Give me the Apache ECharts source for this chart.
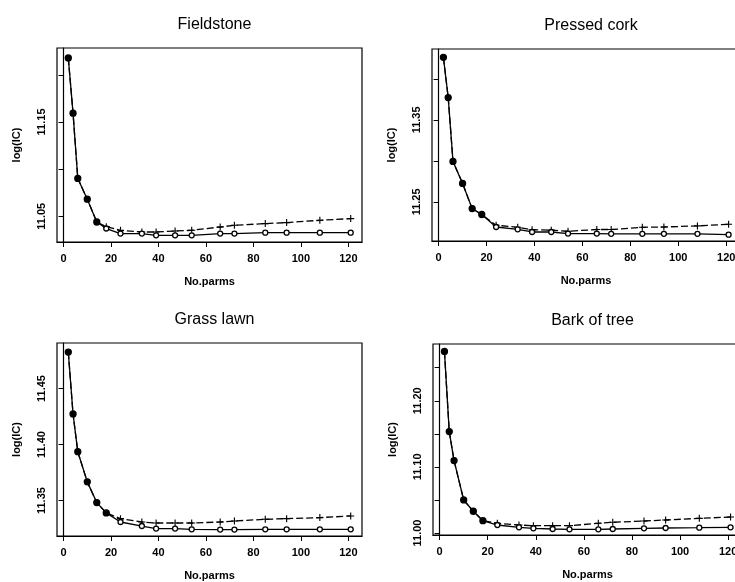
<!DOCTYPE html>
<html>
<head>
<meta charset="utf-8">
<script src="https://cdn.jsdelivr.net/npm/echarts@6/dist/echarts.min.js"></script>
<style>
html,body{margin:0;padding:0;background:#fff;overflow:hidden;}
#chart{width:745px;height:582px;}
</style>
</head>
<body>
<div id="chart"></div>
<script>
// ---- data ----
const titles = ["Fieldstone", "Pressed cork", "Grass lawn", "Bark of tree"];
const xParms = [2, 4, 6, 10, 14, 18, 24, 33, 39, 47, 54, 66, 72, 85, 94, 108, 121];
const xTicks = [0, 20, 40, 60, 80, 100, 120];

const fieldCirc = [11.2178, 11.1593, 11.0901, 11.0681, 11.0439, 11.0370, 11.0316, 11.0316, 11.0298, 11.0298, 11.0298, 11.0316, 11.0316, 11.0326, 11.0326, 11.0326, 11.0326];
const fieldPlus = [11.2178, 11.1593, 11.0901, 11.0681, 11.0439, 11.0390, 11.0351, 11.0333, 11.0333, 11.0344, 11.0351, 11.0386, 11.0404, 11.0422, 11.0433, 11.0457, 11.0475];

const corkCirc = [11.4263, 11.3773, 11.2994, 11.2725, 11.2418, 11.2346, 11.2194, 11.2166, 11.2133, 11.2133, 11.2113, 11.2113, 11.2110, 11.2110, 11.2110, 11.2110, 11.2100];
const corkPlus = [11.4263, 11.3773, 11.2994, 11.2725, 11.2418, 11.2346, 11.2215, 11.2190, 11.2160, 11.2155, 11.2142, 11.2163, 11.2163, 11.2190, 11.2194, 11.2207, 11.2227];

const grassCirc = [11.4825, 11.4273, 11.3936, 11.3667, 11.3482, 11.3390, 11.3309, 11.3273, 11.3250, 11.3250, 11.3244, 11.3241, 11.3241, 11.3244, 11.3244, 11.3244, 11.3244];
const grassPlus = [11.4825, 11.4273, 11.3936, 11.3667, 11.3482, 11.3390, 11.3339, 11.3309, 11.3300, 11.3300, 11.3300, 11.3309, 11.3318, 11.3333, 11.3339, 11.3348, 11.3363];

const barkCirc = [11.2747, 11.1535, 11.1095, 11.0500, 11.0329, 11.0186, 11.0121, 11.0086, 11.0071, 11.0061, 11.0056, 11.0056, 11.0061, 11.0071, 11.0076, 11.0081, 11.0086];
const barkPlus = [11.2747, 11.1535, 11.1095, 11.0500, 11.0329, 11.0186, 11.0147, 11.0121, 11.0111, 11.0111, 11.0111, 11.0147, 11.0162, 11.0182, 11.0197, 11.0222, 11.0242];

const fieldTicks = [11.05, 11.10, 11.15, 11.20];
const fieldLabels = [11.05, 11.15];
const corkTicks = [11.25, 11.30, 11.35, 11.40];
const corkLabels = [11.25, 11.35];
const grassTicks = [11.35, 11.40, 11.45];
const grassLabels = [11.35, 11.40, 11.45];
const barkTicks = [11.00, 11.05, 11.10, 11.15, 11.20, 11.25];
const barkLabels = [11.00, 11.10, 11.20];

// ---- layout ----
const FONT = '"Liberation Sans", Arial, Helvetica, sans-serif';
const panels = [
  {circ: fieldCirc, plus: fieldPlus, ticks: fieldTicks, labels: fieldLabels, yMin: 11.0227, yMax: 11.2284, grid: {left: 57, top: 48, width: 305, height: 194}},
  {circ: corkCirc, plus: corkPlus, ticks: corkTicks, labels: corkLabels, yMin: 11.2023, yMax: 11.4365, grid: {left: 432, top: 49, width: 308, height: 192}},
  {circ: grassCirc, plus: grassPlus, ticks: grassTicks, labels: grassLabels, yMin: 11.3184, yMax: 11.4906, grid: {left: 57, top: 343, width: 305, height: 193}},
  {circ: barkCirc, plus: barkPlus, ticks: barkTicks, labels: barkLabels, yMin: 10.997, yMax: 11.2859, grid: {left: 433, top: 344, width: 309, height: 191}}
];

const plusPath = 'path://M-0.8,-5 L0.8,-5 L0.8,-0.8 L5,-0.8 L5,0.8 L0.8,0.8 L0.8,5 L-0.8,5 L-0.8,0.8 L-5,0.8 L-5,-0.8 L-0.8,-0.8 Z';

const option = {
  backgroundColor: '#fff',
  animation: false,
  title: [], grid: [], xAxis: [], yAxis: [], series: []
};

panels.forEach((p, i) => {
  const g = p.grid;
  option.grid.push({left: g.left, top: g.top, width: g.width, height: g.height, show: true, borderColor: '#000', borderWidth: 1.2, backgroundColor: 'transparent', containLabel: false});
  option.title.push({
    text: titles[i], left: g.left + g.width / 2, top: g.top - 36, textAlign: 'center',
    textStyle: {fontFamily: FONT, fontSize: 16, fontWeight: 'normal', color: '#000'}
  });
  option.xAxis.push({
    type: 'value', gridIndex: i, min: -2.76, max: 125.76,
    name: 'No.parms', nameLocation: 'middle', nameGap: 34,
    nameTextStyle: {fontFamily: FONT, fontSize: 11, fontWeight: 'bold', color: '#000'},
    axisLine: {show: true, lineStyle: {color: '#000', width: 1.2}},
    axisTick: {show: true, inside: false, length: 5, customValues: xTicks, lineStyle: {color: '#000', width: 1}},
    axisLabel: {show: true, margin: 11, customValues: xTicks, fontFamily: FONT, fontSize: 11, fontWeight: 'bold', color: '#000'},
    splitLine: {show: false}
  });
  option.yAxis.push({
    type: 'value', gridIndex: i, min: p.yMin, max: p.yMax,
    name: 'log(IC)', nameLocation: 'middle', nameGap: 35, nameRotate: 90,
    nameTextStyle: {fontFamily: FONT, fontSize: 11, fontWeight: 'bold', color: '#000'},
    axisLine: {show: true, lineStyle: {color: '#000', width: 1.2}},
    axisTick: {show: true, inside: false, length: 5, customValues: p.ticks, lineStyle: {color: '#000', width: 1}},
    axisLabel: {show: true, rotate: 90, margin: 10, customValues: p.labels, formatter: v => Number(v).toFixed(2),
      fontFamily: FONT, fontSize: 11, fontWeight: 'bold', color: '#000'},
    splitLine: {show: false}
  });
  // "+" series (dashed)
  option.series.push({
    type: 'line', xAxisIndex: i, yAxisIndex: i,
    data: xParms.map((x, k) => ({value: [x, p.plus[k]], symbol: p.plus[k] === p.circ[k] ? 'none' : plusPath})),
    symbolSize: 7, showSymbol: true,
    lineStyle: {color: '#000', width: 1.3, type: [7, 3]},
    itemStyle: {color: '#000'},
    z: 2
  });
  // "o" series (solid)
  option.series.push({
    type: 'line', xAxisIndex: i, yAxisIndex: i,
    data: xParms.map((x, k) => {
      const filled = p.plus[k] === p.circ[k];
      return {value: [x, p.circ[k]], symbolSize: filled ? 6 : 5,
        itemStyle: {color: filled ? '#000' : '#fff', borderColor: '#000', borderWidth: 1.3}};
    }),
    symbol: 'circle', showSymbol: true,
    lineStyle: {color: '#000', width: 1.3},
    z: 3
  });
});

const chart = echarts.init(document.getElementById('chart'), null, {renderer: 'canvas'});
chart.setOption(option);
</script>
</body>
</html>
